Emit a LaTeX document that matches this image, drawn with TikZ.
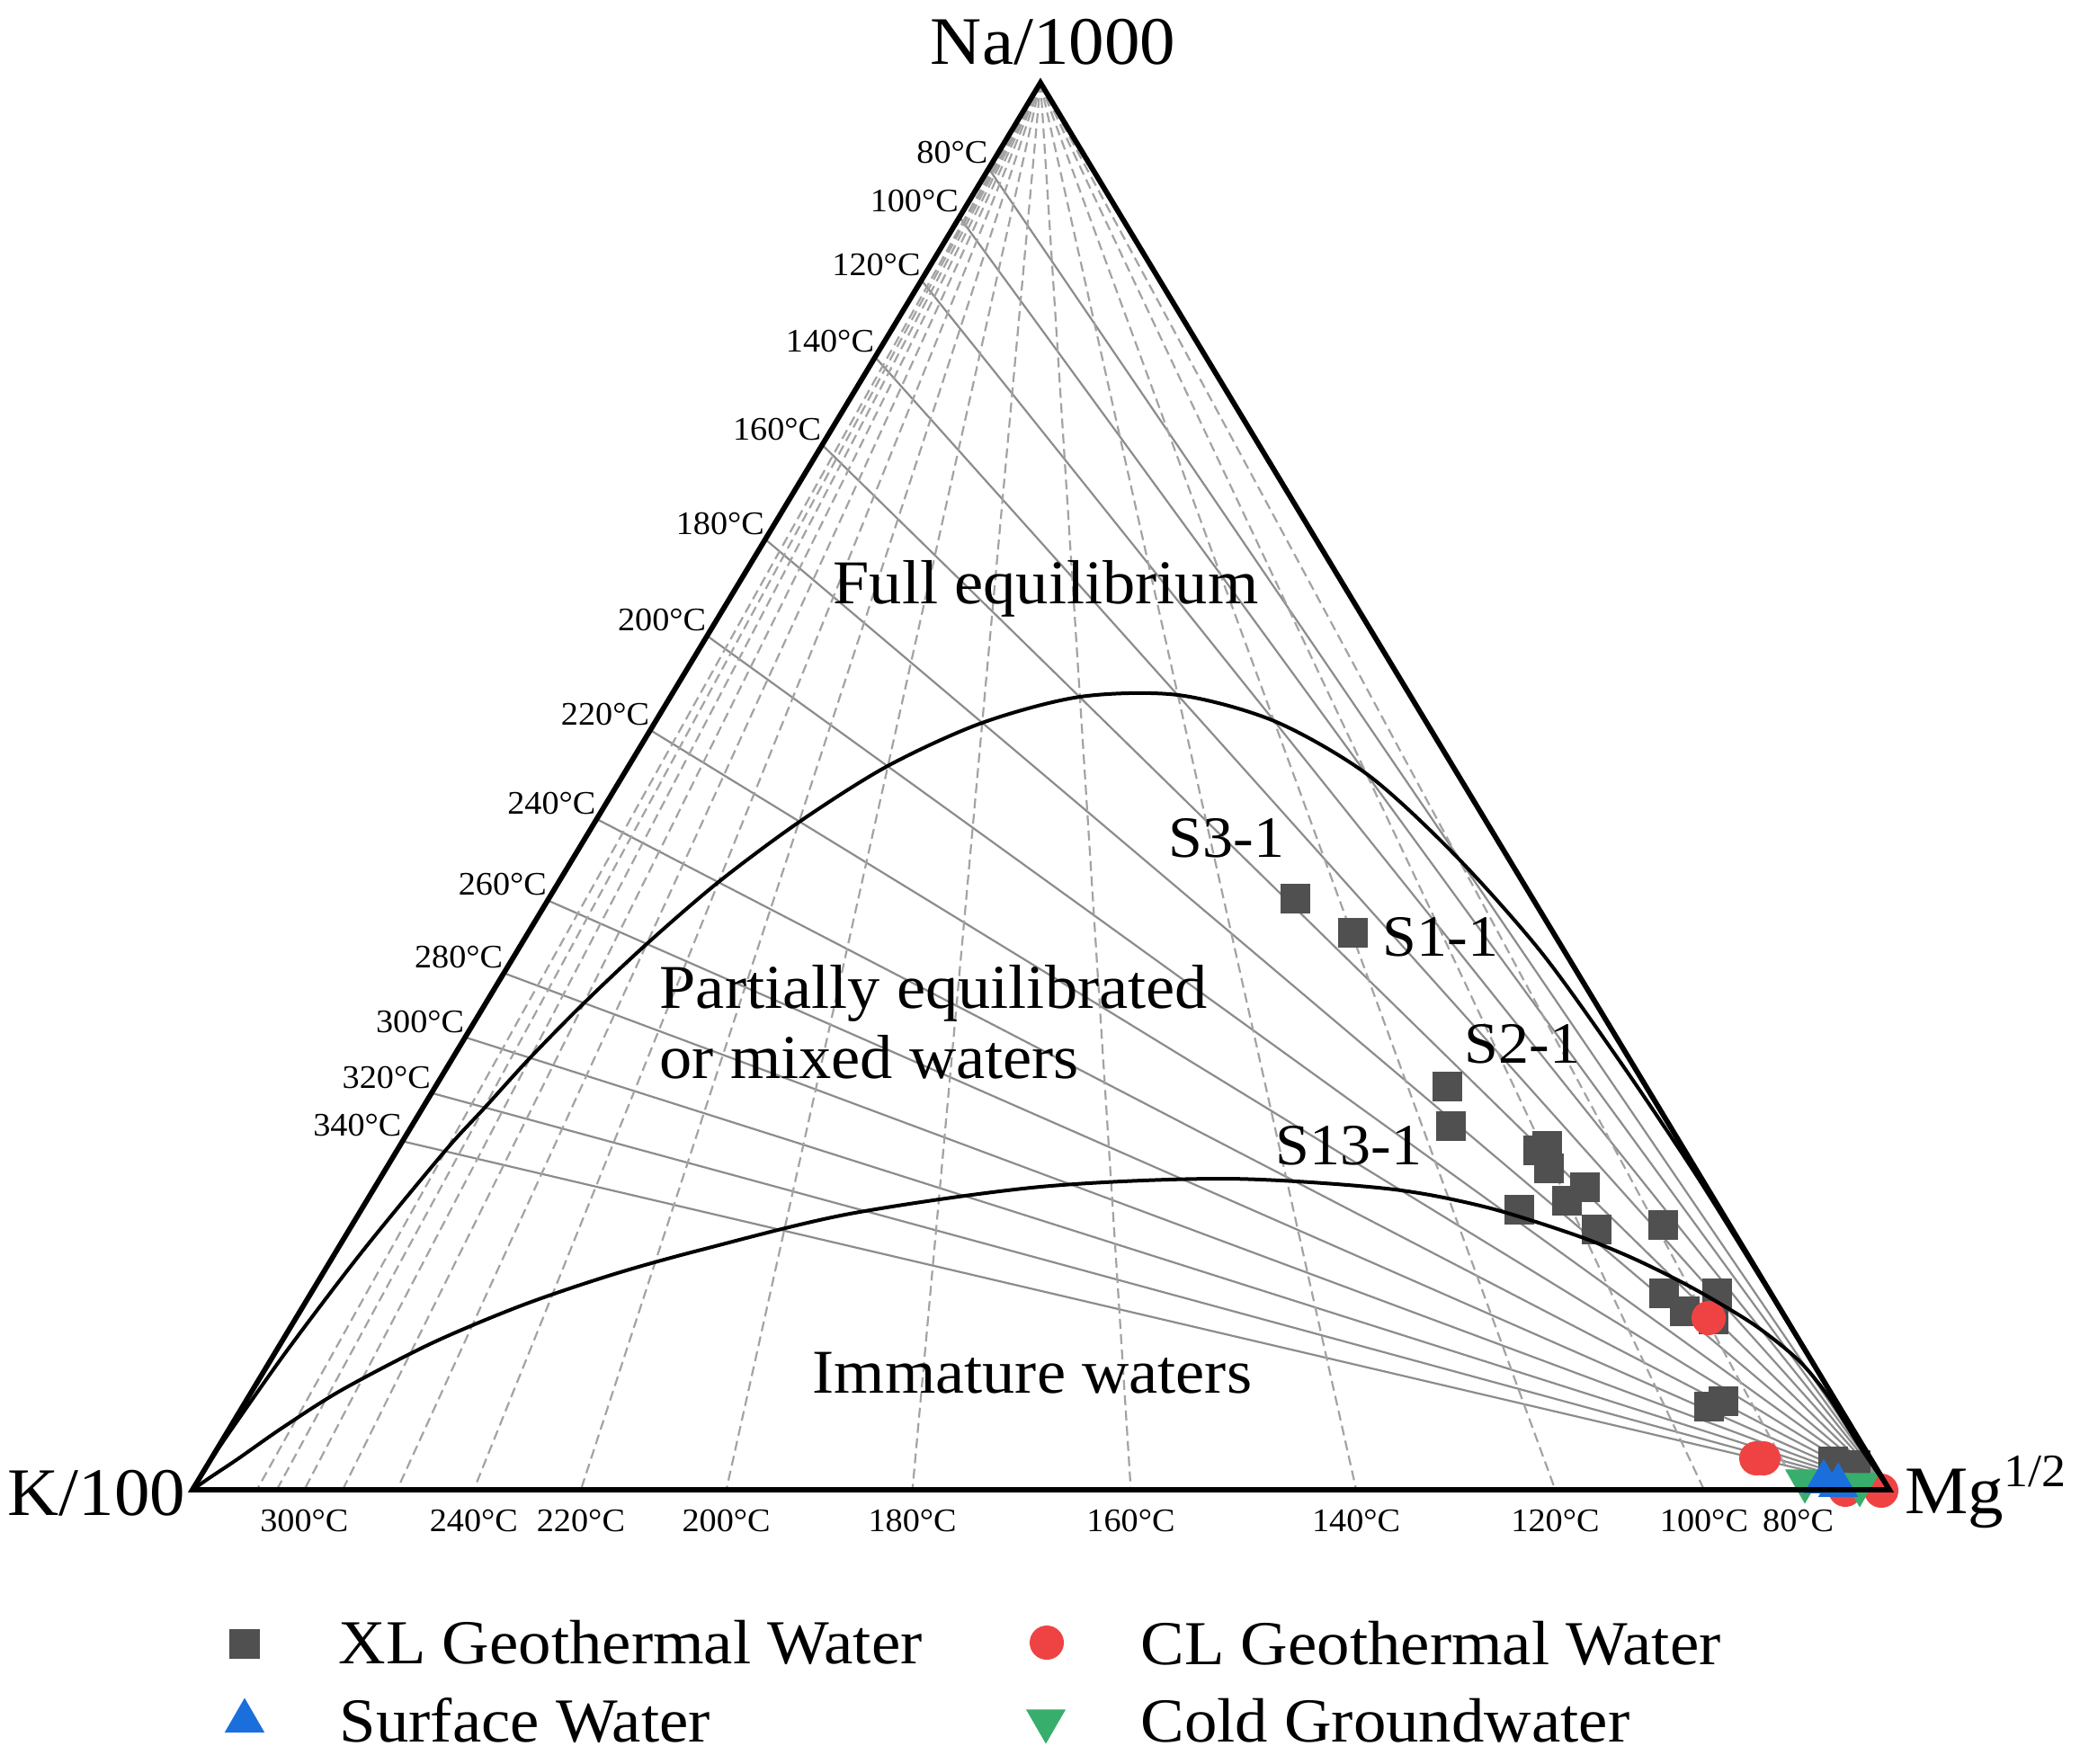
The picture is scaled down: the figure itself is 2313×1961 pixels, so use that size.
\documentclass[tikz,border=0pt]{standalone}
\usepackage{fontspec}
\setmainfont{Liberation Serif}[FakeStretch=1.045]
\usetikzlibrary{shapes.geometric}

\definecolor{xlgray}{HTML}{505050}
\definecolor{clred}{HTML}{EF4343}
\definecolor{swblue}{HTML}{1B6FDC}
\definecolor{cggreen}{HTML}{38AE6C}
\definecolor{tkngray}{HTML}{8C8C8C}
\definecolor{tkmgray}{HTML}{A3A3A3}

\begin{document}
\begin{tikzpicture}[x=0.01cm,y=-0.01cm,
  tkn/.style={tkngray,line width=0.022cm},
  tkm/.style={tkmgray,line width=0.022cm,dash pattern=on 0.11cm off 0.06cm},
  eqline/.style={black,line width=0.04cm},
  tlbl/.style={inner sep=0pt,text=black,font=\fontsize{10.4}{12}\selectfont},
  vlbl/.style={inner sep=0pt,font=\fontsize{21.5}{26}\selectfont},
  zone/.style={inner sep=0pt,anchor=base west,font=\fontsize{19.7}{24}\selectfont},
  slbl/.style={inner sep=0pt,anchor=base west,font=\fontsize{18.5}{22}\selectfont},
  leg/.style={inner sep=0pt,anchor=base west,font=\fontsize{19.8}{24}\selectfont},
  xl/.style={rectangle,fill=xlgray,inner sep=0pt,minimum size=0.33cm},
  cl/.style={circle,fill=clred,inner sep=0pt,minimum size=0.38cm},
  sw/.style={regular polygon,regular polygon sides=3,fill=swblue,inner sep=0pt,minimum size=0.51cm},
  cg/.style={sw,fill=cggreen,shape border rotate=180}]
 \useasboundingbox[fill=white] (0,0) rectangle (2313,1961);
 \coordinate (Na) at (1157,92);
 \coordinate (K) at (214,1657);
 \coordinate (Mg) at (2101,1657);
 % Na-K isotherms
 \draw[tkn] (Mg) -- (barycentric cs:Na=0.9390,K=0.0610) node[tlbl,anchor=base east,yshift=0.055cm] (n80) {80°C};
 \draw[tkn] (Mg) -- (barycentric cs:Na=0.9045,K=0.0955) node[tlbl,anchor=base east,yshift=0.055cm] (n100) {100°C};
 \draw[tkn] (Mg) -- (barycentric cs:Na=0.8596,K=0.1404) node[tlbl,anchor=base east,yshift=0.055cm] (n120) {120°C};
 \draw[tkn] (Mg) -- (barycentric cs:Na=0.8050,K=0.1950) node[tlbl,anchor=base east,yshift=0.055cm] (n140) {140°C};
 \draw[tkn] (Mg) -- (barycentric cs:Na=0.7426,K=0.2574) node[tlbl,anchor=base east,yshift=0.055cm] (n160) {160°C};
 \draw[tkn] (Mg) -- (barycentric cs:Na=0.6755,K=0.3245) node[tlbl,anchor=base east,yshift=0.055cm] (n180) {180°C};
 \draw[tkn] (Mg) -- (barycentric cs:Na=0.6069,K=0.3931) node[tlbl,anchor=base east,yshift=0.055cm] (n200) {200°C};
 \draw[tkn] (Mg) -- (barycentric cs:Na=0.5399,K=0.4601) node[tlbl,anchor=base east,yshift=0.055cm] (n220) {220°C};
 \draw[tkn] (Mg) -- (barycentric cs:Na=0.4767,K=0.5233) node[tlbl,anchor=base east,yshift=0.055cm] (n240) {240°C};
 \draw[tkn] (Mg) -- (barycentric cs:Na=0.4189,K=0.5811) node[tlbl,anchor=base east,yshift=0.055cm] (n260) {260°C};
 \draw[tkn] (Mg) -- (barycentric cs:Na=0.3672,K=0.6328) node[tlbl,anchor=base east,yshift=0.055cm] (n280) {280°C};
 \draw[tkn] (Mg) -- (barycentric cs:Na=0.3216,K=0.6784) node[tlbl,anchor=base east,yshift=0.055cm] (n300) {300°C};
 \draw[tkn] (Mg) -- (barycentric cs:Na=0.2820,K=0.7180) node[tlbl,anchor=base east,yshift=0.055cm] (n320) {320°C};
 \draw[tkn] (Mg) -- (barycentric cs:Na=0.2477,K=0.7523) node[tlbl,anchor=base east,yshift=0.055cm] (n340) {340°C};
 % K-Mg isotherms
 \draw[tkm] (Na) -- (barycentric cs:K=0.0537,Mg=0.9463) node[tlbl,anchor=base,yshift=-0.46cm] (m80) {80°C};
 \draw[tkm] (Na) -- (barycentric cs:K=0.1092,Mg=0.8908) node[tlbl,anchor=base,yshift=-0.46cm] (m100) {100°C};
 \draw[tkm] (Na) -- (barycentric cs:K=0.1969,Mg=0.8031) node[tlbl,anchor=base,yshift=-0.46cm] (m120) {120°C};
 \draw[tkm] (Na) -- (barycentric cs:K=0.3142,Mg=0.6858) node[tlbl,anchor=base,yshift=-0.46cm] (m140) {140°C};
 \draw[tkm] (Na) -- (barycentric cs:K=0.4470,Mg=0.5530) node[tlbl,anchor=base,yshift=-0.46cm] (m160) {160°C};
 \draw[tkm] (Na) -- (barycentric cs:K=0.5757,Mg=0.4243) node[tlbl,anchor=base,yshift=-0.46cm] (m180) {180°C};
 \draw[tkm] (Na) -- (barycentric cs:K=0.6854,Mg=0.3146) node[tlbl,anchor=base,yshift=-0.46cm] (m200) {200°C};
 \draw[tkm] (Na) -- (barycentric cs:K=0.7711,Mg=0.2289) node[tlbl,anchor=base,yshift=-0.46cm] (m220) {220°C};
 \draw[tkm] (Na) -- (barycentric cs:K=0.8342,Mg=0.1658) node[tlbl,anchor=base,yshift=-0.46cm] (m240) {240°C};
 \draw[tkm] (Na) -- (barycentric cs:K=0.8794,Mg=0.1206) coordinate (m260);
 \draw[tkm] (Na) -- (barycentric cs:K=0.9115,Mg=0.0885) coordinate (m280);
 \draw[tkm] (Na) -- (barycentric cs:K=0.9341,Mg=0.0659) node[tlbl,anchor=base,yshift=-0.46cm] (m300) {300°C};
 \draw[tkm] (Na) -- (barycentric cs:K=0.9503,Mg=0.0497) coordinate (m320);
 \draw[tkm] (Na) -- (barycentric cs:K=0.9620,Mg=0.0380) coordinate (m340);
 % samples
 \node[xl] (x1) at (1440,999) {};
 \node[xl] (x2) at (1504,1037) {};
 \node[xl] (x3) at (1609,1208) {};
 \node[xl] (x4) at (1613,1252) {};
 \node[xl] (x5) at (1710,1279) {};
 \node[xl] (x6) at (1720,1274) {};
 \node[xl] (x7) at (1722,1299) {};
 \node[xl] (x8) at (1762,1320) {};
 \node[xl] (x9) at (1742,1335) {};
 \node[xl] (x10) at (1689,1345) {};
 \node[xl] (x11) at (1775,1367) {};
 \node[xl] (x12) at (1849,1362) {};
 \node[xl] (x13) at (1850,1438) {};
 \node[xl] (x14) at (1873,1458) {};
 \node[xl] (x15) at (1909,1438) {};
 \node[xl] (x16) at (1905,1467) {};
 \node[xl] (x17) at (1900,1564) {};
 \node[xl] (x18) at (1916,1558) {};
 \node[xl] (x19) at (2038,1625) {};
 \node[xl] (x20) at (2063,1629) {};
 \node[cl] (c1) at (1900,1466) {};
 \node[cl] (c2) at (1953,1622) {};
 \node[cl] (c3) at (1961,1622) {};
 \node[cl] (c4) at (2052,1657) {};
 \node[cl] (c5) at (2092,1658) {};
 \node[cg] (g1) at (2007,1647) {};
 \node[cg] (g2) at (2068,1651) {};
 \node[sw] (s1) at (2028,1648) {};
 \node[sw] (s2) at (2044,1652) {};
 % full equilibrium and immature lines
 \draw[eqline] plot[smooth] coordinates {(2101,1657) (2001,1492) (1953,1414) (1883,1302) (1801,1180) (1713,1058) (1617,950) (1520,861) (1417,802) (1310,773) (1201,775) (1092,804) (987,852) (889,914) (799,981) (719,1050) (649,1116) (589,1177) (539,1232) (495,1280) (402,1393) (320,1501) (260,1586) (235,1623) (214,1657)};
 \draw[eqline] plot[smooth] coordinates {(2101,1657) (2067,1607) (2033,1553) (2000,1513) (1950,1473) (1883,1433) (1817,1400) (1750,1373) (1650,1342) (1542,1322) (1363,1311) (1157,1320) (945,1350) (780,1390) (680,1418) (580,1452) (480,1494) (380,1546) (314,1588) (264,1623) (234,1643) (214,1657)};
 \draw[line width=0.058cm] (K) -- (Mg) -- (Na) -- cycle;
 % corner labels
 \node[vlbl,anchor=base] (lNa) at (1171,72) {Na/1000};
 \node[vlbl,anchor=base east] (lK) at (207,1685) {K/100};
 \node[vlbl,anchor=base west] (lMg) at (2118,1683) {Mg\raisebox{8.5pt}{\fontsize{14.7}{17}\selectfont 1/2}};
 % fields
 \node[zone] (full) at (926,671) {Full equilibrium};
 \node[zone] (part) at (733,1121) {Partially equilibrated};
 \node[zone] (mixed) at (733,1199) {or mixed waters};
 \node[zone] (imm) at (903,1549) {Immature waters};
 \node[slbl] (l3) at (1299,953) {S3-1};
 \node[slbl] (l1) at (1537,1063) {S1-1};
 \node[slbl] (l2) at (1628,1182) {S2-1};
 \node[slbl] (l13) at (1418,1295) {S13-1};
 % legend
 \node[xl] (kxl) at (272,1828) {};
 \node[leg] (txl) at (376,1850) {XL Geothermal Water};
 \node[sw] (ksw) at (272,1914) {};
 \node[leg] (tsw) at (377,1937) {Surface Water};
 \node[cl] (kcl) at (1164,1827) {};
 \node[leg] (tcl) at (1268,1851) {CL Geothermal Water};
 \node[cg] (kcg) at (1163,1914) {};
 \node[leg] (tcg) at (1268,1937) {Cold Groundwater};
\end{tikzpicture}
\end{document}
